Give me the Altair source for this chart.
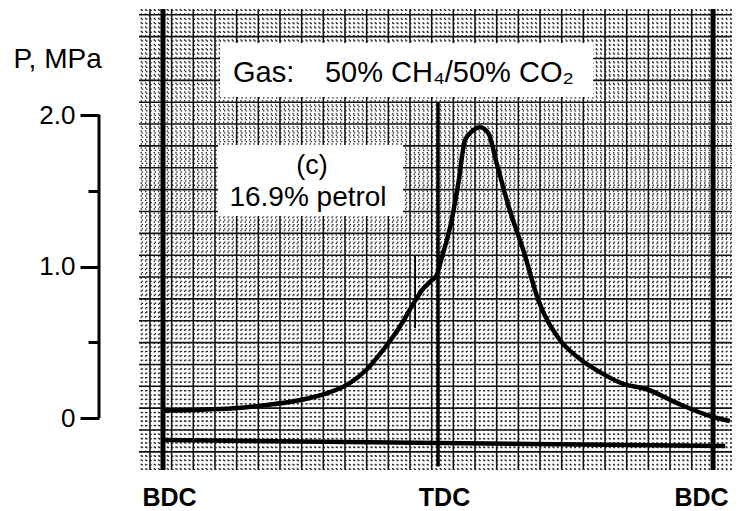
import altair as alt
import numpy as np
import pandas as pd

# ---- data ----
crank_deg = [-180, -160, -134, -112, -90, -73, -58, -47, -36, -25, -16, -10, -4, -1,
             2.5, 8.8, 13.3, 17.7, 22, 27.5, 33, 38.4, 47, 55.8, 65.6, 79.8, 92.9,
             108.2, 121.3, 136.6, 156.2, 179, 191]
pressure = [0.048, 0.053, 0.064, 0.086, 0.119, 0.163, 0.229, 0.317, 0.449, 0.603, 0.757,
            0.85, 0.91, 0.94, 1.06, 1.30, 1.55, 1.835, 1.89, 1.919, 1.879, 1.681, 1.37,
            1.109, 0.779, 0.515, 0.39, 0.29, 0.225, 0.19, 0.10, 0.01, -0.02]

dead_centres = [-180, 180]          # BDC lines
tdc = [0]
y_tick_values = [0, 0.5, 1, 1.5, 2]
x_tick_values = [-180, 0, 180]

FONT = "Liberation Sans"

W, H = 593, 461
xs = alt.Scale(domain=[-195.7, 192.4], nice=False, zero=False)
ys = alt.Scale(domain=[-0.343, 2.70], nice=False, zero=False)

# ---- graph-paper grid (own scale in grid cells) ----
gxs = alt.Scale(domain=[-2.506, 24.86], nice=False, zero=False)
gys = alt.Scale(domain=[-0.265, 20.83], nice=False, zero=False, reverse=True)

gx_major = np.arange(-2, 25)
gy_major = np.arange(0, 21)
gx_minor = [v for v in np.round(np.arange(-2.4, 24.9, 0.2), 2) if abs(v - round(v)) > 1e-6]
gy_minor = [v for v in np.round(np.arange(-0.2, 20.9, 0.2), 2) if abs(v - round(v)) > 1e-6]

vminor = alt.Chart(pd.DataFrame({"g": gx_minor})).mark_rule(
    color="#262626", strokeWidth=1.3, strokeDash=[1.5, 2.83]
).encode(x=alt.X("g:Q", scale=gxs, axis=None))
hminor = alt.Chart(pd.DataFrame({"g": gy_minor})).mark_rule(
    color="#262626", strokeWidth=1.3, strokeDash=[1.5, 2.83]
).encode(y=alt.Y("g:Q", scale=gys, axis=None))
vmajor = alt.Chart(pd.DataFrame({"g": gx_major})).mark_rule(
    color="#111111", strokeWidth=1.6
).encode(x=alt.X("g:Q", scale=gxs, axis=None))
hmajor = alt.Chart(pd.DataFrame({"g": gy_major})).mark_rule(
    color="#111111", strokeWidth=1.6
).encode(y=alt.Y("g:Q", scale=gys, axis=None))

grid = alt.layer(vminor, hminor, vmajor, hmajor)

# ---- axes ----
xaxis = alt.Axis(
    values=x_tick_values,
    labelExpr="datum.value == 0 ? 'TDC' : 'BDC'",
    ticks=False, tickSize=0, domain=False, grid=False, title=None,
    labelFont=FONT, labelFontSize=25, labelFontWeight="bold", labelColor="black",
    labelPadding=15, labelFlush=False, labelOverlap=False,
    labelOffset={"condition": {"test": "datum.value > 90", "value": -12}, "value": 6},
)
yaxis = alt.Axis(
    values=y_tick_values,
    labelExpr="datum.value == 2 ? '2.0' : datum.value == 1 ? '1.0' : datum.value == 0 ? '0' : ''",
    offset=40, domain=False, grid=False,
    tickColor="black", tickWidth=3,
    tickSize={"condition": {"test": "datum.value % 1 != 0", "value": 11}, "value": 19},
    labelFont=FONT, labelFontSize=26, labelColor="black", labelPadding=5,
    labelFlush=False, labelOverlap=False,
    title="P, MPa", titleAngle=0, titleAlign="left", titleBaseline="alphabetic",
    titleX=-86, titleY=58, titleFont=FONT, titleFontSize=28,
    titleFontWeight="normal", titleColor="black",
)

# ---- white label boxes ----
boxes = pd.DataFrame({
    "x1": [-142.7, -144.0], "x2": [101.5, -22.9],
    "y1": [2.475, 1.802], "y2": [2.119, 1.333],
})
box_layer = alt.Chart(boxes).mark_rect(color="white").encode(
    x=alt.X("x1:Q", scale=xs, axis=xaxis), x2="x2:Q",
    y=alt.Y("y1:Q", scale=ys, axis=yaxis), y2="y2:Q",
)

curve_df = pd.DataFrame({"deg": crank_deg, "P": pressure})
curve = alt.Chart(curve_df).mark_line(
    color="black", strokeWidth=4.5, interpolate="monotone", strokeJoin="round"
).encode(x=alt.X("deg:Q", scale=xs), y=alt.Y("P:Q", scale=ys))

bdc_rules = alt.Chart(pd.DataFrame({"deg": dead_centres})).mark_rule(
    color="black", strokeWidth=5
).encode(x=alt.X("deg:Q", scale=xs))

tdc_rule = alt.Chart(pd.DataFrame({"deg": tdc, "top": [2.086], "bot": [-0.32]})).mark_rule(
    color="black", strokeWidth=3.5
).encode(x=alt.X("deg:Q", scale=xs), y=alt.Y("top:Q", scale=ys), y2="bot:Q")

spark_rule = alt.Chart(pd.DataFrame({"deg": [-15], "top": [1.076], "bot": [0.594]})).mark_rule(
    color="black", strokeWidth=1.8
).encode(x=alt.X("deg:Q", scale=xs), y=alt.Y("top:Q", scale=ys), y2="bot:Q")

base_rule = alt.Chart(pd.DataFrame({"a": [-180], "b": [188], "ya": [-0.145], "yb": [-0.185]})).mark_rule(
    color="black", strokeWidth=4.5
).encode(x=alt.X("a:Q", scale=xs), x2="b:Q", y=alt.Y("ya:Q", scale=ys), y2="yb:Q")

yaxis_line = alt.Chart(pd.DataFrame({"lo": [0], "hi": [2]})).mark_rule(
    color="black", strokeWidth=3
).encode(x=alt.value(-40), y=alt.Y("lo:Q", scale=ys), y2="hi:Q")

texts = pd.DataFrame({
    "t": ["Gas:", "50% CH\u2084/50% CO\u2082", "(c)", "16.9% petrol"],
    "x": [-134.2, -74.0, -82.5, -85.1],
    "y": [2.22, 2.22, 1.612, 1.400],
    "al": ["left", "left", "center", "center"],
    "fs": [29, 29, 27, 28],
})
text_left = alt.Chart(texts[texts.al == "left"]).mark_text(
    font=FONT, fontSize=29, color="black", align="left", baseline="alphabetic"
).encode(x=alt.X("x:Q", scale=xs), y=alt.Y("y:Q", scale=ys), text="t:N")
text_center = alt.Chart(texts[texts.al == "center"]).mark_text(
    font=FONT, color="black", align="center", baseline="alphabetic"
).encode(x=alt.X("x:Q", scale=xs), y=alt.Y("y:Q", scale=ys), text="t:N",
         size=alt.Size("fs:Q", scale=None, legend=None))

main = alt.layer(box_layer, bdc_rules, tdc_rule, spark_rule, base_rule, yaxis_line,
                 curve, text_left, text_center)

chart = alt.layer(grid, main).resolve_scale(
    x="independent", y="independent"
).properties(
    width=W, height=H,
    autosize=alt.AutoSizeParams(type="none"),
    padding={"left": 139, "top": 9, "right": 9, "bottom": 41},
    background="white",
).configure_view(stroke=None)

chart.save("out.html", embed_options={"renderer": "svg", "actions": False})
